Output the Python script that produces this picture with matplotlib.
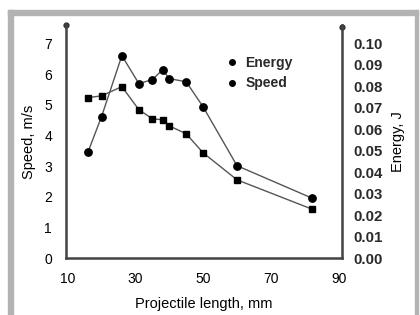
import matplotlib.pyplot as plt
from matplotlib.patches import Rectangle

plt.rcParams['font.family'] = ['Liberation Sans', 'DejaVu Sans']

# projectile length, mm
length = [16, 20, 26, 31, 35, 38, 40, 45, 50, 60, 82]
# speed, m/s
speed = [5.23, 5.29, 5.59, 4.84, 4.54, 4.51, 4.31, 4.05, 3.43, 2.55, 1.60]
# energy, J
energy = [0.0494, 0.0659, 0.0943, 0.0813, 0.0831, 0.0877, 0.0836, 0.0821, 0.0704, 0.0430, 0.0280]

x_ticks = [10, 30, 50, 70, 90]
speed_ticks = [0, 1, 2, 3, 4, 5, 6, 7]
energy_ticks = [0.00, 0.01, 0.02, 0.03, 0.04, 0.05, 0.06, 0.07, 0.08, 0.09, 0.10]

fig = plt.figure(figsize=(4.2, 3.15), dpi=100)
fig.patch.set_facecolor('white')

# grey frame round the picture
frame = '#b3b3b3'
fig.patches.append(Rectangle((8/420, 0), 5/420, (315-10)/315, transform=fig.transFigure,
                             color=frame, zorder=0))
fig.patches.append(Rectangle((8/420, (315-15)/315), (418-8)/420, 5/315, transform=fig.transFigure,
                             color=frame, zorder=0))
fig.patches.append(Rectangle((415/420, 0), 3/420, (315-10)/315, transform=fig.transFigure,
                             color=frame, zorder=0))

ax = fig.add_axes([66/420, (315-258)/315, (342-66)/420, (258-25)/315])
ax2 = ax.twinx()

ymax = 7.6
ax.set_xlim(9.5, 91)
ax.set_ylim(0, ymax)
ax2.set_ylim(0, ymax * 0.1 / 7)

ax.plot(length, speed, color='#555555', lw=1, marker='s', ms=4.8,
        mfc='black', mec='black', label='Speed', zorder=3)
ax2.plot(length, energy, color='#555555', lw=1, marker='o', ms=5.3,
         mfc='black', mec='black', label='Energy', zorder=3)

for a in (ax, ax2):
    a.spines['top'].set_visible(False)
    for s in ('left', 'right', 'bottom'):
        a.spines[s].set_linewidth(1.8)
        a.spines[s].set_color('#444444')
    a.tick_params(length=0)
ax.spines['right'].set_visible(False)
ax2.spines['left'].set_visible(False)
ax2.spines['bottom'].set_visible(False)

# small dots on top of vertical axes
ax.plot([9.5], [ymax], 'o', color='#333333', ms=3.5, clip_on=False)
ax2.plot([91], [ymax * 0.1 / 7 * 0.99], 'o', color='#333333', ms=3.5, clip_on=False)

ax.set_xticks(x_ticks)
ax.set_xticklabels([str(t) for t in x_ticks], fontsize=10)
ax.set_yticks(speed_ticks)
ax.set_yticklabels([str(t) for t in speed_ticks], fontsize=10)
ax.tick_params(axis='x', pad=10)
ax.tick_params(axis='y', pad=10)

ax2.set_yticks(energy_ticks)
ax2.set_yticklabels(['%.2f' % t for t in energy_ticks], fontsize=10.8,
                    fontweight='bold', color='#2a2a2a')
ax2.tick_params(axis='y', pad=8)

ax.set_xlabel('Projectile length, mm', fontsize=10.5, labelpad=8)
ax.set_ylabel('Speed, m/s', fontsize=10.5, labelpad=6)
ax2.set_ylabel('Energy, J', fontsize=10.5, labelpad=6)

h1, l1 = ax2.get_legend_handles_labels()
h2, l2 = ax.get_legend_handles_labels()
leg = ax.legend(h1 + h2, l1 + l2, loc='upper left', bbox_to_anchor=(0.54, 0.92),
                frameon=False, handlelength=0.6, handletextpad=0.7,
                labelspacing=0.45, prop={'weight': 'bold', 'size': 10})
for line in leg.get_lines():
    line.set_linestyle('none')
    line.set_marker('o')
    line.set_markersize(4)
for t in leg.get_texts():
    t.set_color('#2a2a2a')

fig.savefig('out.png', dpi=100)
